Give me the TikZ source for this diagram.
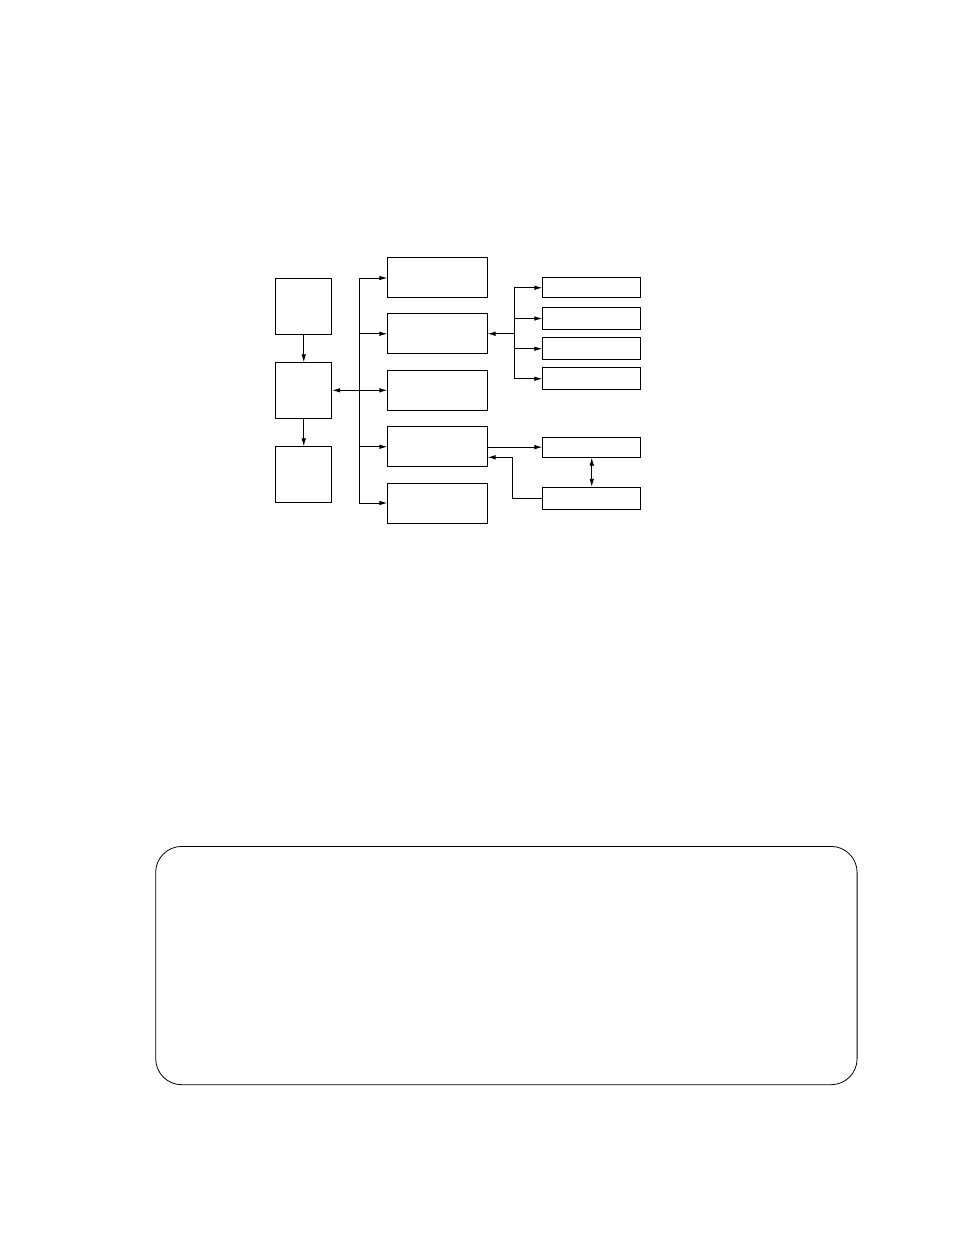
\documentclass[tikz,border=0pt]{standalone}
\usetikzlibrary{arrows.meta}
\begin{document}
\begin{tikzpicture}[x=1pt,y=-1pt,line width=0.9pt,
  blk/.style={draw,rectangle,inner sep=0pt,anchor=north west},
  arr/.style={-{Latex[length=8pt,width=4.6pt]}},
  darr/.style={{Latex[length=8pt,width=4.6pt]}-{Latex[length=8pt,width=4.6pt]}}]
\useasboundingbox (0,0) rectangle (954,1235);
% left column
\node[blk,minimum width=56pt,minimum height=56pt] (A) at (275.3,278.3) {};
\node[blk,minimum width=56pt,minimum height=56pt] (B) at (275.3,362.3) {};
\node[blk,minimum width=56pt,minimum height=56pt] (C) at (275.3,446.3) {};
\draw[arr] (A.south) -- (B.north);
\draw[arr] (B.south) -- (C.north);
% middle column
\node[blk,minimum width=99.4pt,minimum height=40pt] (M1) at (387.3,257.3) {};
\node[blk,minimum width=99.4pt,minimum height=40pt] (M2) at (387.3,313.3) {};
\node[blk,minimum width=99.4pt,minimum height=40.5pt] (M3) at (387.3,369.5) {};
\node[blk,minimum width=99.4pt,minimum height=40pt] (M4) at (387.3,426.3) {};
\node[blk,minimum width=99.4pt,minimum height=40.5pt] (M5) at (387.3,482.5) {};
% bus
\coordinate (bx) at (359.3,0);
\coordinate (bt) at (359.3,278);
\coordinate (bb) at (359.3,503);
\coordinate (bm) at (359.3,390.3);
\draw (bt) -- (bb);
\draw[arr] (bt) -- (M1.west |- bt);
\draw[arr] (bx |- M2.west) -- (M2.west);
\draw[arr] (bm) -- (M3.west |- bm);
\draw[arr] (bm) -- (B.east |- bm);
\draw[arr] (bx |- M4.west) -- (M4.west);
\draw[arr] (bb) -- (M5.west |- bb);
% right column
\node[blk,minimum width=98pt,minimum height=20pt] (R1) at (542.3,277.3) {};
\node[blk,minimum width=98pt,minimum height=22.5pt] (R2) at (542.3,306.8) {};
\node[blk,minimum width=98pt,minimum height=22pt] (R3) at (542.3,337.3) {};
\node[blk,minimum width=98pt,minimum height=22pt] (R4) at (542.3,367.3) {};
\node[blk,minimum width=98pt,minimum height=20pt] (R5) at (542.3,436.7) {};
\node[blk,minimum width=98pt,minimum height=22.5pt] (R6) at (542.3,486.8) {};
% branch to R1..R4
\coordinate (rx) at (514.3,0);
\coordinate (rt) at (rx |- R1.west);
\coordinate (rb) at (rx |- R4.west);
\coordinate (rm) at (rx |- M2.east);
\draw (rt) -- (rb);
\draw[arr] (rt) -- (R1.west);
\draw[arr] (rx |- R2.west) -- (R2.west);
\draw[arr] (rx |- R3.west) -- (R3.west);
\draw[arr] (rb) -- (R4.west);
\draw[arr] (rm) -- (M2.east);
% M4 to R5 / R6
\draw[arr] (M4.east |- R5.west) -- (R5.west);
\coordinate (kx) at (512.7,0);
\coordinate (k1) at (kx |- R6.west);
\coordinate (k2) at (512.7,457.3);
\draw[arr] (R6.west) -- (k1) -- (k2) -- (M4.east |- k2);
\draw[darr] (R5.south) -- (R6.north);
% bottom rounded box
\node[draw,rectangle,rounded corners=26pt,line width=0.8pt,inner sep=0pt,anchor=north west,
  minimum width=701.4pt,minimum height=238.3pt] (panel) at (155.3,846) {};
\end{tikzpicture}
\end{document}
